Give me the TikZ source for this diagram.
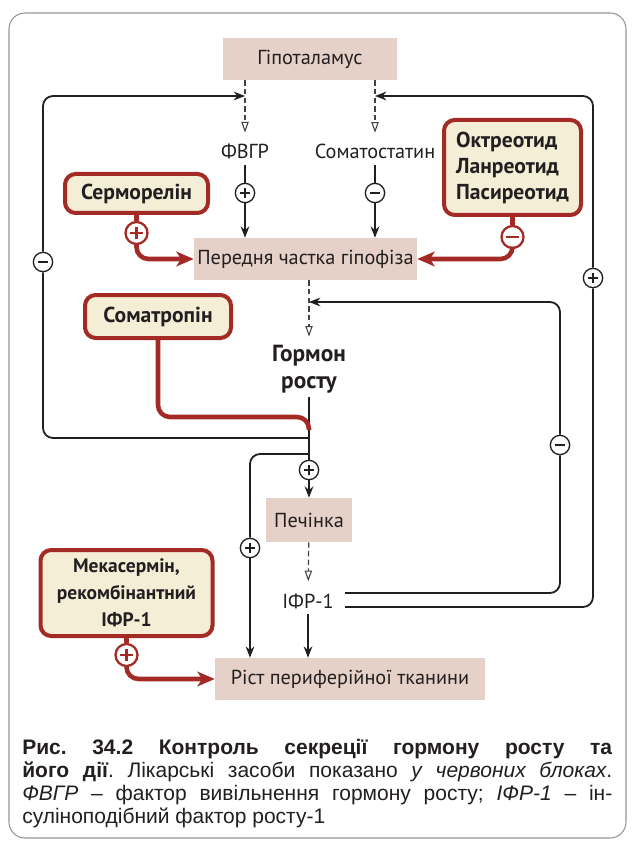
\documentclass[tikz,border=0pt]{standalone}
\usepackage{fontspec}
\setmainfont{PT Sans}
\newfontfamily\capfont{Liberation Sans}
\usetikzlibrary{arrows.meta}

\definecolor{ink}{RGB}{35,31,32}
\definecolor{organfill}{RGB}{229,209,199}
\definecolor{drugline}{RGB}{163,42,37}
\definecolor{drugfill}{RGB}{244,238,215}
\definecolor{framegray}{RGB}{150,150,150}

\tikzset{
  >={Stealth[length=8.5pt,width=6.5pt]},
  organ/.style={fill=organfill, text=ink, inner sep=0pt,
    font=\fontsize{15.2pt}{18pt}\selectfont},
  drugbox/.style={draw=drugline, line width=3pt, rounded corners=8pt,
    fill=drugfill, text=ink, inner sep=0pt,
    font=\bfseries\fontsize{16.2pt}{19.5pt}\selectfont},
  txtlabel/.style={text=ink, inner sep=0pt,
    font=\fontsize{15.2pt}{18pt}\selectfont},
  ghtext/.style={text=ink, inner sep=0pt, align=center,
    font=\bfseries\fontsize{17.5pt}{20.25pt}\selectfont},
  blk/.style={draw=ink, line width=1.35pt},
  dsh/.style={draw=ink!85, line width=0.9pt, dash pattern=on 4pt off 2.5pt,
    -{Triangle[open,length=8pt,width=5.5pt,line width=0.8pt]}},
  redln/.style={draw=drugline, line width=3.4pt, rounded corners=9pt},
  redarr/.style={redln, -{Stealth[length=13pt,width=11pt,inset=3.5pt]}},
  sgncirc/.style={circle, draw=ink, line width=1pt, fill=white,
    minimum size=14.5pt, inner sep=0pt},
  redcirc/.style={circle, draw=drugline, line width=1.7pt, fill=white,
    minimum size=16.5pt, inner sep=0pt},
  blkplus/.style={sgncirc, path picture={
    \draw[ink, line width=1pt]
      ([xshift=-4pt]path picture bounding box.center) -- ([xshift=4pt]path picture bounding box.center)
      ([yshift=-4pt]path picture bounding box.center) -- ([yshift=4pt]path picture bounding box.center);}},
  blkminus/.style={sgncirc, path picture={
    \draw[ink, line width=1pt]
      ([xshift=-4pt]path picture bounding box.center) -- ([xshift=4pt]path picture bounding box.center);}},
  redplus/.style={redcirc, path picture={
    \draw[drugline, line width=1.8pt]
      ([xshift=-4.8pt]path picture bounding box.center) -- ([xshift=4.8pt]path picture bounding box.center)
      ([yshift=-4.8pt]path picture bounding box.center) -- ([yshift=4.8pt]path picture bounding box.center);}},
  redminus/.style={redcirc, path picture={
    \draw[drugline, line width=1.8pt]
      ([xshift=-4.8pt]path picture bounding box.center) -- ([xshift=4.8pt]path picture bounding box.center);}},
  capline/.style={text=ink, inner sep=0pt, anchor=base west,
    font=\capfont\frenchspacing\fontsize{15.75pt}{17pt}\selectfont},
}

\begin{document}
\begin{tikzpicture}[x=0.75pt, y=-0.75pt]
\useasboundingbox (0,0) rectangle (634,852);
\fill[white] (0,0) rectangle (634,852);
\draw[framegray, line width=0.8pt, rounded corners=12pt] (9,13) rectangle (626,838);

% organs and signals
\node[organ, minimum width=130.5pt, minimum height=31.5pt] (hyp) at (310,59) {Гіпоталамус};
\node[txtlabel] (fvgr) at (245,151) {ФВГР};
\node[txtlabel] (som) at (375,151) {Соматостатин};
\node[organ, minimum width=167.25pt, minimum height=31.5pt] (pit) at (305.5,259) {Передня частка гіпофіза};
\node[ghtext] (gh) at (309,369) {Гормон\\росту};
\node[organ, minimum width=64.5pt, minimum height=33pt] (liver) at (309,520) {Печінка};
\node[txtlabel] (igf) at (308,601) {ІФР-1};
\node[organ, minimum width=202.5pt, minimum height=31.5pt] (growth) at (350,679) {Ріст периферійної тканини};

% drugs
\node[drugbox, minimum width=107.25pt, minimum height=29.25pt] (serm) at (136.5,193.5) {Серморелін};
\node[drugbox, minimum width=102.75pt, minimum height=71.25pt, align=left] (octr) at (512.5,167.5) {Октреотид\\Ланреотид\\Пасиреотид};
\node[drugbox, minimum width=109.5pt, minimum height=32.25pt] (somat) at (158,316.5) {Соматропін};
\node[drugbox, minimum width=129pt, minimum height=64.5pt, align=center,
  font=\bfseries\fontsize{14.6pt}{20.25pt}\selectfont] (meka) at (126.5,593) {Мекасермін,\\рекомбінантний\\ІФР-1};

% stimulation / inhibition marks
\node[blkplus] (fp) at (245,193) {};
\node[blkminus] (sm) at (375,193) {};
\node[redplus] (sp) at (136.5,233) {};
\node[redminus] (om) at (512.5,237) {};
\node[blkminus] (lm) at (43,262) {};
\node[blkplus] (rp) at (593,278) {};
\node[blkminus] (im) at (560,445) {};
\node[blkplus] (gp) at (309,470) {};
\node[blkplus] (bp) at (250,548) {};
\node[redplus] (mp) at (126.5,655) {};

% junctions on the lines
\coordinate (fvgrin) at (245,96);
\coordinate (somin) at (375,96);
\coordinate (ghin) at (309,302);
\coordinate (redturn) at (309,417);
\coordinate (redjoin) at (309,430);
\coordinate (ghL) at (309,438);
\coordinate (ghB) at (309,454);
\coordinate (igfa) at (345,593);
\coordinate (igfb) at (345,607);

% hypothalamus -> pituitary
\draw[dsh, shorten >=8pt] (hyp.south -| fvgr) -- (fvgr);
\draw[dsh, shorten >=8pt] (hyp.south -| som) -- (som);
\draw[blk, shorten <=5pt] (fvgr) -- (fp);
\draw[blk, ->] (fp) -- (fp |- pit.north);
\draw[blk, shorten <=5pt] (som) -- (sm);
\draw[blk, ->] (sm) -- (sm |- pit.north);

% drugs acting on the pituitary
\draw[redln] (serm.south -| sp) -- (sp);
\draw[redarr] (sp) |- (pit);
\draw[redln] (octr.south -| om) -- (om);
\draw[redarr] (om) |- (pit);

% growth hormone
\draw[dsh, shorten >=6pt] (pit.south -| gh) -- (gh);
\draw[blk, shorten <=3pt] (gh) -- (gp);
\draw[blk, ->] (gp) -- (liver);
\draw[redln] (somat) |- (redturn) -- (redjoin);

% feedback of growth hormone on FVGR
\draw[blk, rounded corners=7.5pt] (ghL) -| (lm);
\draw[blk, ->, rounded corners=7.5pt] (lm) |- (fvgrin);

% direct action on tissue
\draw[blk, rounded corners=7.5pt] (ghB) -| (bp);
\draw[blk, ->] (bp) -- (bp |- growth.north);

% liver -> IGF-1 -> tissue
\draw[dsh, shorten >=9pt] (liver) -- (igf);
\draw[blk, ->, shorten <=4pt] (igf) -- (igf |- growth.north);

% IGF-1 feedback loops
\draw[blk, rounded corners=7.5pt] (igfa) -| (im);
\draw[blk, ->, rounded corners=7.5pt] (im) |- (ghin);
\draw[blk, rounded corners=7.5pt] (igfb) -| (rp);
\draw[blk, ->, rounded corners=7.5pt] (rp) |- (somin);

% mecasermin
\draw[redln] (meka.south -| mp) -- (mp);
\draw[redarr] (mp) |- (growth);

% caption
\node[capline] (cap1) at (22,754) {\makebox[442.5pt][s]{\textbf{Рис. 34.2} \textbf{Контроль секреції гормону росту та}}};
\node[capline] (cap2) at (22,777) {\makebox[442.5pt][s]{\textbf{його дії}. Лікарські засоби показано \textit{у червоних блоках}.}};
\node[capline] (cap3) at (22,800) {\makebox[442.5pt][s]{\textit{ФВГР} – фактор вивільнення гормону росту; \textit{ІФР-1} – ін-}};
\node[capline] (cap4) at (22,823) {сулінoподібний фактор росту-1};
\end{tikzpicture}
\end{document}
